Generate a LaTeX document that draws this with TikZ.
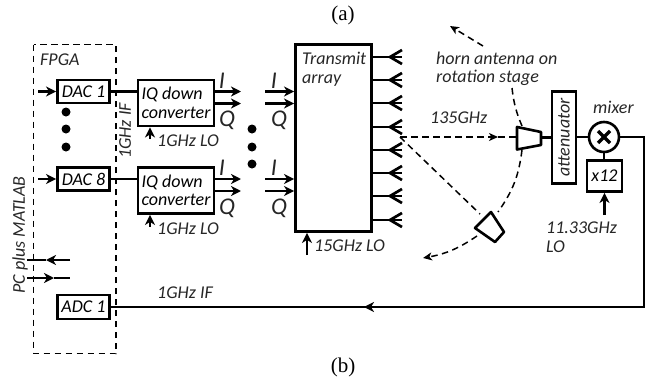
\documentclass[tikz,border=0pt]{standalone}
\usepackage{fontspec}
\setmainfont{Carlito}
\newfontfamily\capfont{Liberation Serif}
\usetikzlibrary{arrows.meta}
\tikzset{
	blockbox/.style={draw,line width=2.9pt,inner sep=0pt,font=\fontsize{18}{18.5}\selectfont\itshape},
	lab/.style={inner sep=0pt,font=\fontsize{18}{18.5}\selectfont\itshape,text=black!85},
	iqlab/.style={inner sep=0pt,font=\fontsize{24}{24}\selectfont\itshape,text=black!85},
	sigline/.style={line width=2.7pt},
	sigtip/.style={line width=2.7pt,-{Stealth[length=10pt,width=10pt,inset=3pt]}},
	beam/.style={line width=1.5pt,dash pattern=on 6.5pt off 4.5pt},
	beamtip/.style={line width=1.5pt,dash pattern=on 6.5pt off 4.5pt,-{Stealth[length=9pt,width=8pt,inset=2.5pt]}},
	dot/.style={circle,fill=black,inner sep=0pt,minimum size=9pt}
}
\begin{document}
\begin{tikzpicture}[x=1pt,y=-1pt]
	\useasboundingbox (0,0) rectangle (651,380);
	% captions
	\node[inner sep=0pt,font=\fontsize{21}{22}\selectfont\capfont] (capa) at (343,15) {(a)};
	\node[inner sep=0pt,font=\fontsize{21}{22}\selectfont\capfont] (capb) at (343,367) {(b)};
	% FPGA
	\draw[line width=1.5pt,dash pattern=on 6.5pt off 4.5pt] (33.5,44.5) rectangle (116,353.5);
	\node[lab,anchor=west] (fpga) at (40,60) {FPGA};
	\node[lab,rotate=90] (pc) at (20,235) {PC plus MATLAB};
	\node[lab,rotate=90] (ifa) at (125,131) {1GHz IF};
	% DAC and converter rows
	\foreach \y/\d[count=\a] in {91.5/1,179/8}
	{\pgfmathsetmacro{\iy}{\y+11.5}
		\node[blockbox,minimum width=52pt,minimum height=23pt] (dac\a) at (83.5,\y) {DAC \d};
		\node[blockbox,minimum width=76pt,minimum height=46pt,align=left] (iq\a) at (176,\iy) {IQ down\\converter};
		\coordinate (in\a) at (38,\y);
		\draw[sigtip] (in\a)--(dac\a.west);
		\draw[sigline] (dac\a.east)--(dac\a.east -| iq\a.west);
		\coordinate (loa\a) at (150,\iy+36);
		\draw[sigtip] (loa\a)--(loa\a |- iq\a.south);
		\node[lab,anchor=west] (lo\a) at (157,\iy+38) {1GHz LO};
		\coordinate (ia\a) at (241,\y);
		\coordinate (qa\a) at (241,\y+12);
		\coordinate (ib\a) at (265,\y);
		\coordinate (qb\a) at (265,\y+12);
		\draw[sigtip] (ia\a -| iq\a.east)--(ia\a);
		\draw[sigtip] (qa\a -| iq\a.east)--(qa\a);
		\node[iqlab] (il\a) at (222,\y-11) {I};
		\node[iqlab] (ql\a) at (227,\y+29) {Q};
		\node[iqlab] (im\a) at (274,\y-11) {I};
		\node[iqlab] (qm\a) at (279,\y+29) {Q};
	}
	\foreach \y[count=\a] in {112,129,147}
	{\node[dot] (da\a) at (66,\y) {};}
	\foreach \y[count=\a] in {129,147,164}
	{\node[dot] (db\a) at (252,\y) {};}
	% transmit array
	\node[blockbox,minimum width=76pt,minimum height=187pt] (tx) at (333.5,138) {};
	\node[lab,anchor=north west,align=left] (txt) at (302,52) {Transmit\\array};
	\foreach \a in {1,2}
	{\draw[sigtip] (ib\a)--(ib\a -| tx.west);
		\draw[sigtip] (qb\a)--(qb\a -| tx.west);}
	\foreach \y[count=\a] in {57,80,103,127,150,173,196,220}
	{\coordinate (e\a) at (402,\y);
		\coordinate (f\a) at (402,\y-7);
		\coordinate (g\a) at (402,\y+7);
		\coordinate (h\a) at (390,\y);
		\draw[sigline] (e\a -| tx.east)--(e\a);
		\draw[sigline] (f\a)--(h\a)--(g\a);}
	\coordinate (txlo) at (307,255);
	\draw[sigtip] (txlo)--(txlo |- tx.south);
	\node[lab,anchor=west] (txlol) at (314,246) {15GHz LO};
	% horns and beams
	\coordinate (src) at (400,137);
	\coordinate (ha1) at (517,127);
	\coordinate (ha2) at (541,132);
	\coordinate (ha3) at (541,145);
	\coordinate (ha4) at (517,149.5);
	\coordinate (hb1) at (491,212);
	\coordinate (hb2) at (504,232);
	\coordinate (hb3) at (495,242);
	\coordinate (hb4) at (475,228);
	\draw[line width=2.6pt,line join=round] (ha1)--(ha2)--(ha3)--(ha4)--cycle;
	\draw[line width=2.6pt,line join=round] (hb1)--(hb2)--(hb3)--(hb4)--cycle;
	\coordinate (bm) at (498,137);
	\draw[beamtip] (src)--(bm);
	\draw[beam] (bm)--(ha4 |- bm);
	\coordinate (be) at (480,214);
	\draw[beam] (src)--(be);
	\coordinate (ta) at (450,26);
	\coordinate (tb) at (483,46);
	\draw[beamtip] (tb)--(ta);
	\coordinate (ra) at (512,88);
	\coordinate (rb) at (522,126);
	\coordinate (rc) at (522,150);
	\coordinate (rd) at (498,212);
	\coordinate (re) at (477,236);
	\coordinate (rf) at (423,258);
	\draw[beam] (ra) to[bend right=8] (rb);
	\draw[beam] (rc) to[bend left=14] (rd);
	\draw[beamtip] (re) to[bend left=12] (rf);
	\node[lab,anchor=west,align=left] (horn) at (436,69) {horn antenna on\\rotation stage};
	\node[lab,anchor=west] (ghz) at (430,118) {135GHz};
	% receiver chain
	\node[blockbox,minimum width=24pt,minimum height=92pt] (att) at (564,137.5) {};
	\node[lab,rotate=90] (attl) at (564,137.5) {attenuator};
	\node[draw,circle,line width=2.6pt,minimum size=30pt,inner sep=0pt] (mix) at (604,137) {};
	\coordinate (ma) at (598,131);
	\coordinate (mb) at (610,143);
	\coordinate (mc) at (598,143);
	\coordinate (md) at (610,131);
	\draw[line width=3.2pt] (ma)--(mb);
	\draw[line width=3.2pt] (mc)--(md);
	\node[lab,anchor=west] (mixl) at (593,107) {mixer};
	\node[blockbox,minimum width=35pt,minimum height=31pt] (x12) at (604.5,176) {x12};
	\draw[sigline] (ha2 |- att)--(att.west);
	\draw[sigline] (att.east |- mix)--(mix.west);
	\draw[sigline] (mix.south)--(mix.south |- x12.north);
	\coordinate (xlo) at (604.5,215);
	\draw[sigtip] (xlo)--(x12.south);
	\node[lab,anchor=north west,align=left] (xlol) at (546,222) {11.33GHz\\LO};
	% IF return
	\node[blockbox,minimum width=52pt,minimum height=24pt] (adc) at (83.5,307) {ADC 1};
	\coordinate (rtc) at (644,307);
	\coordinate (rtd) at (644,137);
	\coordinate (rtm) at (364,307);
	\draw[sigline,line join=miter] (mix.east)--(rtd)--(rtc)--(rtm);
	\draw[sigtip] (rtc)--(rtm);
	\draw[sigline] (rtm)--(adc.east);
	\node[lab,anchor=west] (ifb) at (157,293) {1GHz IF};
	% PC links
	\coordinate (pa) at (27,260);
	\coordinate (pb) at (70,260);
	\coordinate (pc1) at (27,278);
	\coordinate (pc2) at (70,278);
	\coordinate (pm) at (46,260);
	\coordinate (pn) at (54,278);
	\draw[sigtip] (pb)--(pm);
	\draw[sigline] (pm)--(pa);
	\draw[sigtip] (pc1)--(pn);
	\draw[sigline] (pn)--(pc2);
\end{tikzpicture}
\end{document}
